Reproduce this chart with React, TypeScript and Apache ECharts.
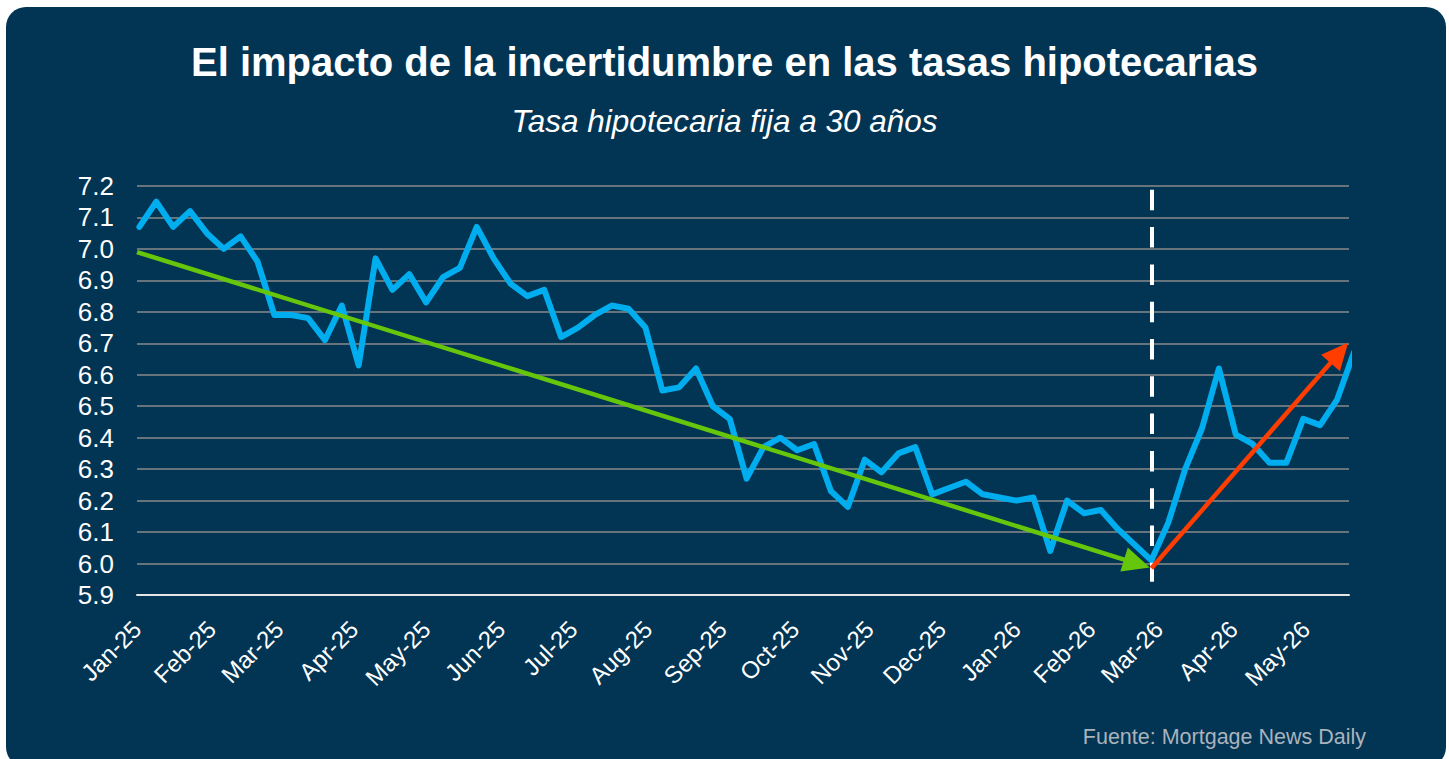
import React, { useEffect, useRef } from 'react';
import * as echarts from 'echarts';

const TITLE = 'El impacto de la incertidumbre en las tasas hipotecarias';
const SUBTITLE = 'Tasa hipotecaria fija a 30 años';
const SOURCE = 'Fuente: Mortgage News Daily';

// Weekly observation dates
const weekDates = [
  '2025-01-02', '2025-01-09', '2025-01-16', '2025-01-23', '2025-01-30',
  '2025-02-06', '2025-02-13', '2025-02-20', '2025-02-27',
  '2025-03-06', '2025-03-13', '2025-03-20', '2025-03-27',
  '2025-04-03', '2025-04-10', '2025-04-17', '2025-04-24',
  '2025-05-01', '2025-05-08', '2025-05-15', '2025-05-22', '2025-05-29',
  '2025-06-05', '2025-06-12', '2025-06-19', '2025-06-26',
  '2025-07-03', '2025-07-10', '2025-07-17', '2025-07-24', '2025-07-31',
  '2025-08-07', '2025-08-14', '2025-08-21', '2025-08-28',
  '2025-09-04', '2025-09-11', '2025-09-18', '2025-09-25',
  '2025-10-02', '2025-10-09', '2025-10-16', '2025-10-23', '2025-10-30',
  '2025-11-06', '2025-11-13', '2025-11-20', '2025-11-27',
  '2025-12-04', '2025-12-11', '2025-12-18', '2025-12-25',
  '2026-01-01', '2026-01-08', '2026-01-15', '2026-01-22', '2026-01-29',
  '2026-02-05', '2026-02-12', '2026-02-19', '2026-02-26',
  '2026-03-05', '2026-03-12', '2026-03-19', '2026-03-26',
  '2026-04-02', '2026-04-09', '2026-04-16', '2026-04-23', '2026-04-30',
  '2026-05-07', '2026-05-14', '2026-05-21',
];

// 30-year fixed rate (%)
const rates = [
  7.07, 7.15, 7.07, 7.12, 7.05,
  7.0, 7.04, 6.96, 6.79,
  6.79, 6.78, 6.71, 6.82,
  6.63, 6.97, 6.87, 6.92,
  6.83, 6.91, 6.94, 7.07, 6.97,
  6.89, 6.85, 6.87, 6.72,
  6.75, 6.79, 6.82, 6.81, 6.75,
  6.55, 6.56, 6.62, 6.5,
  6.46, 6.27, 6.37, 6.4,
  6.36, 6.38, 6.23, 6.18, 6.33,
  6.29, 6.35, 6.37, 6.22,
  6.24, 6.26, 6.22, 6.21,
  6.2, 6.21, 6.04, 6.2, 6.16,
  6.17, 6.11, 6.06, 6.01,
  6.13, 6.3, 6.43, 6.62,
  6.41, 6.38, 6.32, 6.32, 6.46,
  6.44, 6.52, 6.67,
];

const tickDates = [
  '2025-01-01', '2025-02-01', '2025-03-01', '2025-04-01', '2025-05-01', '2025-06-01',
  '2025-07-01', '2025-08-01', '2025-09-01', '2025-10-01', '2025-11-01', '2025-12-01',
  '2026-01-01', '2026-02-01', '2026-03-01', '2026-04-01', '2026-05-01',
];
const tickLabels = [
  'Jan-25', 'Feb-25', 'Mar-25', 'Apr-25', 'May-25', 'Jun-25',
  'Jul-25', 'Aug-25', 'Sep-25', 'Oct-25', 'Nov-25', 'Dec-25',
  'Jan-26', 'Feb-26', 'Mar-26', 'Apr-26', 'May-26',
];

const xStart = '2025-01-01';
const xEnd = '2026-05-19';
const yMin = 5.9;
const yMax = 7.2;
const yStep = 0.1;

// Annotations
const cutoffDate = '2026-02-26';
const cutoffRange = [5.942, 7.188];
const downTrend: [string, number][] = [['2025-01-01', 6.99], ['2026-02-20', 6.0]];
const upTrend: [string, number][] = [['2026-02-26', 5.985], ['2026-05-15', 6.67]];

const ts = (s: string) => {
  const [y, m, d] = s.split('-').map(Number);
  return Date.UTC(y, m - 1, d);
};

const FONT = "'Liberation Sans', Arial, sans-serif";

export default function App() {
  const ref = useRef<HTMLDivElement>(null);

  useEffect(() => {
    if (!ref.current) return;
    const chart = echarts.init(ref.current, undefined, { renderer: 'svg' });
    const tickValues = tickDates.map(ts);

    const arrowSeries = (name: string, pts: [string, number][], color: string) => ({
      name,
      type: 'line',
      data: [],
      z: 5,
      silent: true,
      markLine: {
        silent: true,
        animation: false,
        symbol: ['none', 'triangle'],
        symbolSize: [25, 27],
        label: { show: false },
        emphasis: { disabled: true },
        lineStyle: { color, width: 4.5, type: 'solid' },
        data: [[{ coord: [ts(pts[0][0]), pts[0][1]] }, { coord: [ts(pts[1][0]), pts[1][1]] }]],
      },
    });

    chart.setOption({
      animation: false,
      backgroundColor: 'transparent',
      textStyle: { fontFamily: FONT },
      title: [
        {
          text: TITLE,
          left: 'center',
          top: 42,
          padding: 0,
          textStyle: { color: '#ffffff', fontSize: 40, fontWeight: 'bold', fontFamily: FONT },
        },
        {
          text: SUBTITLE,
          left: 'center',
          top: 105,
          padding: 0,
          textStyle: { color: '#ffffff', fontSize: 31.5, fontWeight: 'normal', fontStyle: 'italic', fontFamily: FONT },
        },
        {
          text: SOURCE,
          right: 83,
          top: 726,
          padding: 0,
          textStyle: { color: '#a9b3bd', fontSize: 21.5, fontWeight: 'normal', fontFamily: FONT },
        },
      ],
      grid: { left: 137, right: 100, top: 186, bottom: 164, containLabel: false },
      xAxis: {
        type: 'value',
        min: ts(xStart),
        max: ts(xEnd),
        axisLine: { show: true, onZero: false, lineStyle: { color: '#e6e6e6', width: 2 } },
        axisTick: { show: false },
        splitLine: { show: false },
        axisLabel: {
          customValues: tickValues,
          rotate: 45,
          margin: 30,
          color: '#ffffff',
          fontSize: 24,
          fontFamily: FONT,
          formatter: (v: number) => {
            const i = tickValues.indexOf(v);
            return i >= 0 ? tickLabels[i] : '';
          },
        },
      },
      yAxis: {
        type: 'value',
        min: yMin,
        max: yMax,
        interval: yStep,
        axisLine: { show: false },
        axisTick: { show: false },
        splitLine: { show: true, lineStyle: { color: '#8a8a8a', width: 1.5 } },
        axisLabel: {
          color: '#ffffff',
          fontSize: 26,
          margin: 23,
          fontFamily: FONT,
          formatter: (v: number) => v.toFixed(1),
        },
      },
      series: [
        {
          name: 'Tasa',
          type: 'line',
          data: weekDates.map((d, i) => [ts(d), rates[i]]),
          showSymbol: false,
          symbol: 'none',
          clip: true,
          z: 3,
          lineStyle: { color: '#00AEEF', width: 6, join: 'round', cap: 'round' },
        },
        {
          name: 'cutoff',
          type: 'line',
          data: [],
          z: 4,
          silent: true,
          markLine: {
            silent: true,
            animation: false,
            symbol: ['none', 'none'],
            label: { show: false },
            emphasis: { disabled: true },
            lineStyle: { color: '#ffffff', width: 4, type: [20.5, 16.8] },
            data: [[{ coord: [ts(cutoffDate), cutoffRange[1]] }, { coord: [ts(cutoffDate), cutoffRange[0]] }]],
          },
        },
        arrowSeries('down', downTrend, '#66C60C'),
        arrowSeries('up', upTrend, '#FF3D00'),
      ],
    });

    return () => chart.dispose();
  }, []);

  return (
    <div style={{ position: 'fixed', left: 0, top: 0, width: 1449, height: 759, background: '#ffffff', overflow: 'hidden' }}>
      <div
        style={{
          position: 'absolute',
          left: 6,
          top: 7,
          width: 1440,
          height: 760,
          background: '#023453',
          borderRadius: 20,
        }}
      />
      <div ref={ref} style={{ position: 'absolute', left: 0, top: 0, width: 1449, height: 759 }} />
    </div>
  );
}
